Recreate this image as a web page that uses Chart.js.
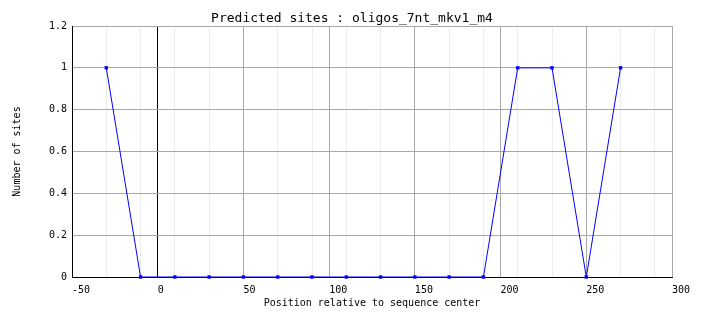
<!DOCTYPE html>
<html>
<head>
<meta charset="utf-8">
<script src="https://cdn.jsdelivr.net/npm/chart.js@4/dist/chart.umd.min.js"></script>
<style>
html,body{margin:0;padding:0;background:#fff;}
canvas{display:block;}
</style>
</head>
<body>
<canvas id="c" width="704" height="328"></canvas>
<script>
const positions = [-30, -10, 10, 30, 50, 70, 90, 110, 130, 150, 170, 190, 210, 230, 250, 270];
const sites = [1, 0, 0, 0, 0, 0, 0, 0, 0, 0, 0, 0, 1, 1, 0, 1];
const xTickLabels = [-50, 0, 50, 100, 150, 200, 250, 300];
const yTickLabels = [0, 0.2, 0.4, 0.6, 0.8, 1, 1.2];

const FONT = "'DejaVu Sans Mono', monospace";
const MAJOR = '#a8a8a8';
const MINOR = '#ececec';

new Chart(document.getElementById('c'), {
  type: 'line',
  data: {
    datasets: [{
      data: positions.map((x, i) => ({x: x, y: sites[i]})),
      borderColor: '#0000ff',
      backgroundColor: '#0000ff',
      borderWidth: 1,
      pointStyle: 'rect',
      pointRadius: 2.4,
      pointBorderWidth: 0,
      tension: 0,
      clip: false
    }]
  },
  options: {
    responsive: false,
    animation: false,
    devicePixelRatio: 1,
    layout: {padding: 0},
    plugins: {
      legend: {display: false},
      tooltip: {enabled: false},
      title: {
        display: true,
        text: 'Predicted sites : oligos_7nt_mkv1_m4',
        color: '#000',
        font: {family: FONT, size: 13, weight: 'normal', lineHeight: 1.2},
        padding: {top: 10.4, bottom: 0}
      }
    },
    scales: {
      x: {
        type: 'linear',
        min: xTickLabels[0],
        max: xTickLabels[xTickLabels.length - 1],
        afterBuildTicks: (s) => {
          const vals = new Set(xTickLabels);
          const step = positions[1] - positions[0];
          for (let v = positions[0]; v <= s.max; v += step) vals.add(v);
          s.ticks = [...vals].sort((a, b) => a - b).map(v => ({value: v}));
        },
        afterFit: (s) => { s.height = 51; },
        grid: {
          drawTicks: false,
          lineWidth: 1,
          color: (ctx) => {
            const v = ctx.tick ? ctx.tick.value : null;
            if (v === 0 || v === xTickLabels[0]) return '#000';
            if (xTickLabels.includes(v)) return MAJOR;
            return MINOR;
          }
        },
        border: {color: '#000', width: 1},
        ticks: {
          autoSkip: false,
          maxRotation: 0,
          align: 'start',
          padding: 7,
          color: '#000',
          font: {family: FONT, size: 10},
          callback: (v) => xTickLabels.includes(v) ? String(v) : ''
        },
        title: {
          display: true,
          text: 'Position relative to sequence center',
          color: '#000',
          font: {family: FONT, size: 10, lineHeight: 1.2},
          padding: {top: 0, bottom: 19}
        }
      },
      y: {
        type: 'linear',
        min: yTickLabels[0],
        max: yTickLabels[yTickLabels.length - 1],
        afterBuildTicks: (s) => { s.ticks = yTickLabels.map(v => ({value: v})); },
        afterFit: (s) => { s.width = 72; },
        grid: {
          drawTicks: false,
          color: (ctx) => (ctx.tick && ctx.tick.value === 0) ? '#000' : MAJOR
        },
        border: {color: '#000', width: 1},
        ticks: {
          padding: 5,
          color: '#000',
          font: {family: FONT, size: 10},
          callback: (v) => String(v)
        },
        title: {
          display: true,
          text: 'Number of sites',
          color: '#000',
          font: {family: FONT, size: 10, lineHeight: 1.2},
          padding: {top: 11, bottom: 0}
        }
      },
      yRight: {
        type: 'linear',
        position: 'right',
        display: true,
        afterFit: (s) => { s.width = 32; },
        grid: {display: false, drawOnChartArea: false},
        border: {display: false},
        ticks: {display: false}
      }
    }
  }
});
</script>
</body>
</html>
